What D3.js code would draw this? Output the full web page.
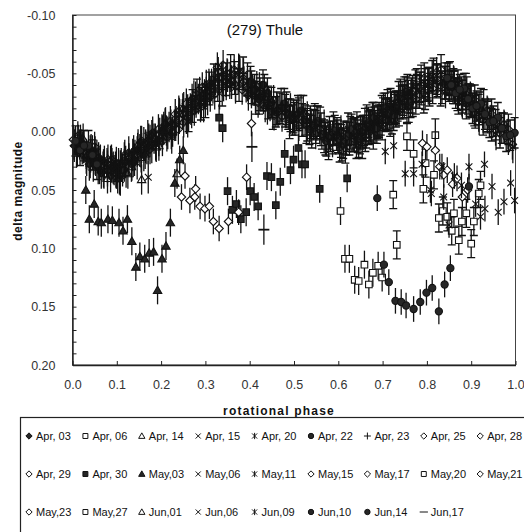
<!DOCTYPE html>
<html>
<head>
<meta charset="utf-8">
<script src="https://cdn.jsdelivr.net/npm/d3@7"></script>
<style>
body { margin:0; background:#fff; }
svg { display:block; font-family:"Liberation Sans", Arial, sans-serif; }
</style>
</head>
<body>
<svg id="chart" width="524" height="532"></svg>
<script>

// ---- data : [rotational phase, delta magnitude] per night ----
var apr03=[[0.004,0.012],[0.018,0.008],[0.031,0.022],[0.045,0.017],[0.058,0.031],[0.072,0.026],[0.086,0.038],[0.099,0.027],[0.113,0.033],[0.127,0.018],[0.140,0.024],[0.154,0.009],[0.168,0.014],[0.181,0.001],[0.195,0.007],[0.209,-0.006],
           [0.011,0.016],[0.025,0.013],[0.038,0.028],[0.052,0.024],[0.065,0.035],[0.079,0.033],[0.092,0.031],[0.106,0.040],[0.120,0.026],[0.134,0.028],[0.147,0.015],[0.161,0.020],[0.175,0.008],[0.188,0.010],[0.202,-0.001]];
var apr06=[[0.552,-0.008],[0.571,0.006],[0.589,-0.003],[0.608,0.011],[0.627,0.001],[0.646,0.008],[0.664,-0.009],[0.683,-0.004],[0.702,-0.019],[0.721,-0.012],[0.740,-0.031],[0.759,-0.022],[0.777,-0.040],[0.796,-0.033],[0.815,-0.049],[0.834,-0.038],[0.852,-0.046],[0.871,-0.029],[0.890,-0.033],[0.909,-0.017],[0.928,-0.022],[0.946,-0.006],[0.819,0.003],
           [0.561,-0.002],[0.580,0.001],[0.599,0.004],[0.618,0.006],[0.636,0.003],[0.655,0.000],[0.674,-0.004],[0.692,-0.011],[0.711,-0.015],[0.730,-0.021],[0.749,-0.026],[0.768,-0.034],[0.787,-0.037],[0.805,-0.041],[0.824,-0.044],[0.843,-0.042],[0.862,-0.038],[0.881,-0.030],[0.900,-0.026],[0.918,-0.020],[0.937,-0.013]];
var apr14=[[0.009,0.018],[0.024,0.006],[0.040,0.027],[0.055,0.020],[0.071,0.036],[0.086,0.025],[0.102,0.040],[0.117,0.022],[0.133,0.030],[0.148,0.011],[0.164,0.019],[0.179,0.003],[0.195,0.012],[0.210,-0.008],[0.226,0.000],[0.241,-0.016],[0.257,-0.011],[0.156,0.041],
           [0.016,0.011],[0.032,0.020],[0.047,0.030],[0.063,0.024],[0.079,0.040],[0.094,0.033],[0.110,0.027],[0.125,0.036],[0.141,0.020],[0.156,0.014],[0.172,0.012],[0.187,0.006],[0.203,-0.001],[0.218,-0.004],[0.234,-0.009],[0.249,-0.020]];
var apr15=[[0.152,0.016],[0.170,0.004],[0.188,0.011],[0.206,-0.003],[0.224,0.005],[0.242,-0.014],[0.260,-0.009],[0.278,-0.029],[0.296,-0.022],[0.314,-0.040],[0.332,-0.033],[0.350,-0.048],[0.368,-0.038],[0.386,-0.049],[0.404,-0.034],[0.422,-0.037],[0.440,-0.020],
           [0.161,0.010],[0.179,0.013],[0.197,0.002],[0.215,0.001],[0.233,-0.006],[0.251,-0.020],[0.269,-0.017],[0.287,-0.033],[0.305,-0.028],[0.323,-0.045],[0.341,-0.040],[0.359,-0.042],[0.377,-0.052],[0.395,-0.040],[0.413,-0.030],[0.431,-0.029]];
var apr20=[[0.603,0.012],[0.622,-0.002],[0.641,0.009],[0.660,-0.006],[0.679,0.001],[0.698,-0.017],[0.717,-0.010],[0.736,-0.029],[0.755,-0.021],[0.774,-0.039],[0.793,-0.030],[0.812,-0.047],[0.831,-0.036],[0.850,-0.045],[0.869,-0.032],[0.888,-0.036],[0.907,-0.019],
           [0.612,0.005],[0.631,0.003],[0.650,0.001],[0.669,-0.003],[0.688,-0.008],[0.707,-0.014],[0.726,-0.020],[0.745,-0.025],[0.764,-0.030],[0.783,-0.034],[0.802,-0.040],[0.821,-0.043],[0.840,-0.042],[0.859,-0.038],[0.878,-0.033],[0.897,-0.027]];
var apr22=[[0.402,-0.043],[0.421,-0.028],[0.440,-0.033],[0.459,-0.017],[0.478,-0.024],[0.497,-0.010],[0.516,-0.018],[0.535,-0.002],[0.554,-0.009],[0.573,0.008],[0.592,-0.001],[0.611,0.010],[0.630,-0.002],[0.649,0.006],[0.668,-0.008],[0.687,-0.003],[0.706,-0.020],[0.725,-0.014],[0.744,-0.030],[0.763,-0.025],
           [0.411,-0.036],[0.430,-0.040],[0.449,-0.025],[0.468,-0.020],[0.487,-0.015],[0.506,-0.014],[0.525,-0.010],[0.544,-0.006],[0.563,0.002],[0.582,0.004],[0.601,0.006],[0.620,0.004],[0.639,0.001],[0.658,-0.001],[0.677,-0.012],[0.696,-0.010],[0.715,-0.016],[0.734,-0.022],[0.753,-0.034]];
var apr23=[[0.262,-0.014],[0.281,-0.031],[0.300,-0.026],[0.319,-0.044],[0.338,-0.036],[0.357,-0.052],[0.376,-0.040],[0.395,-0.045],[0.414,-0.029],[0.433,-0.035],[0.452,-0.016],[0.471,-0.023],[0.490,-0.008],[0.509,-0.017],[0.528,-0.004],[0.547,-0.010],
           [0.271,-0.022],[0.290,-0.024],[0.309,-0.037],[0.328,-0.040],[0.347,-0.045],[0.366,-0.046],[0.385,-0.050],[0.404,-0.038],[0.423,-0.032],[0.442,-0.025],[0.461,-0.020],[0.480,-0.018],[0.499,-0.013],[0.518,-0.010],[0.537,-0.008]];
var apr25=[[0.203,0.008],[0.221,-0.009],[0.239,-0.002],[0.257,-0.024],[0.275,-0.018],[0.293,-0.038],[0.311,-0.030],[0.329,-0.051],[0.347,-0.040],[0.365,-0.053],[0.383,-0.036],[0.401,-0.042],[0.419,-0.025],[0.437,-0.030],[0.455,-0.014],[0.473,-0.021],[0.491,-0.011],
           [0.212,-0.001],[0.230,-0.006],[0.248,-0.015],[0.266,-0.020],[0.284,-0.028],[0.302,-0.034],[0.320,-0.041],[0.338,-0.046],[0.356,-0.047],[0.374,-0.045],[0.392,-0.038],[0.410,-0.035],[0.428,-0.030],[0.446,-0.022],[0.464,-0.017],[0.482,-0.016]];
var apr28=[[0.803,-0.036],[0.822,-0.051],[0.841,-0.040],[0.860,-0.044],[0.879,-0.026],[0.898,-0.030],[0.917,-0.013],[0.936,-0.018],[0.955,-0.001],[0.974,-0.006],[0.993,0.011],[0.012,0.004],[0.031,0.019],[0.050,0.013],[0.069,0.030],[0.088,0.024],[0.107,0.037],
           [0.812,-0.043],[0.831,-0.045],[0.850,-0.039],[0.869,-0.036],[0.888,-0.029],[0.907,-0.022],[0.926,-0.016],[0.945,-0.010],[0.964,-0.004],[0.983,0.002],[0.002,0.007],[0.021,0.011],[0.040,0.016],[0.059,0.022],[0.078,0.027],[0.097,0.030]];
var apr29=[[0.302,-0.040],[0.321,-0.032],[0.340,-0.057],[0.359,-0.044],[0.378,-0.050],[0.397,-0.031],[0.416,-0.039],[0.435,-0.021],[0.454,-0.027],[0.473,-0.013],[0.492,-0.020],[0.511,-0.005],[0.530,-0.013],[0.549,0.002],[0.568,-0.006],[0.587,0.009],[0.606,-0.001],
           [0.311,-0.035],[0.330,-0.046],[0.349,-0.050],[0.368,-0.039],[0.387,-0.043],[0.406,-0.036],[0.425,-0.030],[0.444,-0.024],[0.463,-0.019],[0.482,-0.016],[0.501,-0.012],[0.520,-0.009],[0.539,-0.006],[0.558,-0.002],[0.577,0.004],[0.596,0.003]];
var apr30=[[0.331,-0.012],[0.339,-0.003],[0.350,0.051],[0.361,0.067],[0.370,0.062],[0.380,0.075],[0.392,0.069],[0.401,0.051],[0.410,0.056],[0.419,0.064],[0.439,0.038],[0.449,0.039],[0.459,0.063],[0.469,0.043],[0.479,0.019],[0.492,0.033],[0.499,0.024],[0.510,0.014],[0.518,0.028],[0.525,0.028],[0.558,0.049],[0.620,0.040]];
var may03=[[0.030,0.050],[0.038,0.075],[0.049,0.062],[0.058,0.077],[0.065,0.078],[0.080,0.075],[0.090,0.076],[0.105,0.078],[0.114,0.085],[0.124,0.075],[0.134,0.094],[0.143,0.116],[0.152,0.107],[0.163,0.109],[0.173,0.104],[0.183,0.103],[0.192,0.136],[0.202,0.109],[0.211,0.098],[0.221,0.078],[0.231,0.044],[0.242,0.024],[0.250,0.016]];
var may06=[[0.842,-0.034],[0.861,-0.042],[0.880,-0.025],[0.899,-0.028],[0.918,-0.011],[0.937,-0.016],[0.956,0.002],[0.975,-0.004],[0.994,0.013],[0.013,0.008],[0.032,0.024],[0.051,0.018],[0.070,0.034],[0.089,0.028],[0.108,0.041],[0.127,0.024],[0.146,0.027],[0.165,0.013],[0.171,0.039],
           [0.851,-0.039],[0.870,-0.033],[0.889,-0.030],[0.908,-0.020],[0.927,-0.013],[0.946,-0.008],[0.965,-0.002],[0.984,0.006],[0.003,0.010],[0.022,0.014],[0.041,0.021],[0.060,0.026],[0.079,0.030],[0.098,0.034],[0.117,0.029],[0.136,0.020],[0.155,0.017]];
var may11=[[0.483,-0.020],[0.502,-0.011],[0.521,-0.017],[0.540,0.000],[0.559,-0.007],[0.578,0.010],[0.597,0.002],[0.616,0.013],[0.635,0.003],[0.654,0.009],[0.673,-0.005],[0.692,-0.009],[0.711,-0.022],[0.730,-0.018],[0.749,-0.033],[0.768,-0.027],[0.787,-0.043],[0.806,-0.036],
           [0.492,-0.014],[0.511,-0.015],[0.530,-0.006],[0.549,-0.004],[0.568,0.004],[0.587,0.005],[0.606,0.008],[0.625,0.006],[0.644,0.004],[0.663,0.000],[0.682,-0.007],[0.701,-0.015],[0.720,-0.020],[0.739,-0.025],[0.758,-0.030],[0.777,-0.035],[0.796,-0.040]];
var may15=[[0.642,-0.004],[0.661,0.004],[0.680,-0.012],[0.699,-0.006],[0.718,-0.024],[0.737,-0.018],[0.756,-0.036],[0.775,-0.028],[0.794,-0.046],[0.813,-0.037],[0.832,-0.053],[0.851,-0.039],[0.870,-0.040],[0.889,-0.024],[0.908,-0.027],[0.927,-0.010],[0.946,-0.015],[0.965,0.001],[0.984,-0.002],
           [0.651,0.000],[0.670,-0.005],[0.689,-0.009],[0.708,-0.015],[0.727,-0.021],[0.746,-0.027],[0.765,-0.033],[0.784,-0.038],[0.803,-0.042],[0.822,-0.045],[0.841,-0.046],[0.860,-0.041],[0.879,-0.032],[0.898,-0.026],[0.917,-0.019],[0.936,-0.013],[0.955,-0.006],[0.974,-0.003]];
var may17=[[0.042,0.015],[0.061,0.032],[0.080,0.024],[0.099,0.036],[0.118,0.020],[0.137,0.026],[0.156,0.008],[0.175,0.015],[0.194,-0.002],[0.213,0.004],[0.232,-0.015],[0.251,-0.008],[0.270,-0.028],[0.289,-0.021],[0.308,-0.041],[0.327,-0.055],[0.346,-0.043],[0.365,-0.049],
           [0.051,0.024],[0.070,0.028],[0.089,0.031],[0.108,0.029],[0.127,0.023],[0.146,0.017],[0.165,0.011],[0.184,0.006],[0.203,0.001],[0.222,-0.006],[0.241,-0.011],[0.260,-0.019],[0.279,-0.025],[0.298,-0.032],[0.317,-0.037],[0.336,-0.047],[0.355,-0.041]];
var may20=[[0.724,0.054],[0.732,0.097],[0.755,0.004],[0.770,0.019],[0.792,0.049],[0.797,0.027],[0.816,0.037],[0.827,0.074],[0.836,0.068],[0.846,0.073],[0.856,0.085],[0.861,0.070],[0.872,0.093],[0.879,0.077],[0.889,0.070],[0.900,0.096],[0.906,0.077],[0.917,0.053],[0.921,0.046]];
var may21=[[0.246,0.056],[0.254,0.038],[0.265,0.059],[0.276,0.056],[0.278,0.049],[0.288,0.064],[0.299,0.066],[0.309,0.064],[0.318,0.077],[0.331,0.083],[0.352,0.077],[0.375,0.069],[0.393,0.039],[0.404,-0.007]];
var may23=[[0.790,0.010],[0.800,0.013],[0.819,0.016],[0.829,0.030],[0.838,0.037],[0.846,0.033],[0.858,0.045],[0.868,0.040],[0.880,0.056],[0.892,0.050]];
var may27=[[0.605,0.068],[0.615,0.109],[0.625,0.109],[0.637,0.127],[0.646,0.128],[0.659,0.114],[0.669,0.131],[0.678,0.121],[0.690,0.115],[0.699,0.125]];
var jun01=[[0.104,0.027],[0.121,0.035],[0.138,0.016],[0.155,0.022],[0.172,0.006],[0.189,0.013],[0.206,-0.002],[0.223,0.002],[0.240,-0.018],[0.257,-0.013],[0.274,-0.031],[0.291,-0.025],[0.236,0.036]];
var jun06=[[0.810,0.053],[0.838,0.056],[0.850,0.080],[0.878,0.046],[0.910,0.062],[0.921,0.073],[0.931,0.066],[0.947,0.047],[0.961,0.069],[0.974,0.060],[0.989,0.044],[0.998,0.059]];
var jun09=[[0.706,0.017],[0.725,0.012],[0.751,0.036],[0.770,0.036],[0.789,0.028],[0.808,0.050],[0.834,0.030],[0.862,0.038],[0.895,0.030],[0.930,0.028]];
var jun10=[[0.688,0.057],[0.703,0.114],[0.714,0.129],[0.729,0.145],[0.742,0.146],[0.753,0.149],[0.770,0.152],[0.785,0.146],[0.799,0.138],[0.812,0.134],[0.827,0.154],[0.840,0.131],[0.853,0.117],[0.895,0.047]];
var jun14=[[0.846,-0.046],[0.865,-0.033],[0.884,-0.037],[0.903,-0.020],[0.922,-0.024],[0.941,-0.008],[0.960,-0.012],[0.979,0.004],[0.998,0.001],[0.017,0.016],[0.036,0.012],[0.055,0.028],
           [0.855,-0.040],[0.874,-0.036],[0.893,-0.028],[0.912,-0.022],[0.931,-0.015],[0.950,-0.009],[0.969,-0.003],[0.988,0.003],[0.007,0.008],[0.026,0.012],[0.045,0.020]];
var jun17=[[0.375,-0.054],[0.405,0.013],[0.432,0.084]];

var dates=["Apr, 03","Apr, 06","Apr, 14","Apr, 15","Apr, 20","Apr, 22","Apr, 23","Apr, 25","Apr, 28",
           "Apr, 29","Apr, 30","May,03","May,06","May,11","May,15","May,17","May,20","May,21",
           "May,23","May,27","Jun,01","Jun,06","Jun,09","Jun,10","Jun,14","Jun,17"];
// 1-sigma error of each night (mag)
var errs=[0.014,0.014,0.013,0.014,0.014,0.013,0.014,0.013,0.013,
          0.013,0.012,0.012,0.014,0.014,0.013,0.013,0.012,0.011,
          0.011,0.012,0.013,0.011,0.011,0.011,0.013,0.013];
var xTicks=[0,0.1,0.2,0.3,0.4,0.5,0.6,0.7,0.8,0.9,1.0];
var yTicks=[-0.10,-0.05,0.00,0.05,0.10,0.15,0.20];

var nights=[apr03,apr06,apr14,apr15,apr20,apr22,apr23,apr25,apr28,apr29,apr30,may03,may06,may11,
            may15,may17,may20,may21,may23,may27,jun01,jun06,jun09,jun10,jun14,jun17];

// marker per night
var marks=["diamondF","square","triangle","x","star","circleF","plus","diamond","diamond",
           "diamond","squareF","triangleF","x","star","diamond","diamond","square","diamond",
           "diamond","square","triangle","x","star","circleF","circleF","dash"];
var capped=[1,4,5,6,13,14,16,24];
var whiteFill=[16,17,18,19];   // isolated open markers show a white inside

var svg=d3.select("#chart");
var x=d3.scaleLinear().domain([0,1]).range([72.5,515.5]);
var y=d3.scaleLinear().domain([-0.10,0.20]).range([15,365]);
var ink="#121212";

function shape(t,k){
    var s;
    switch(t){
      case "diamond": case "diamondF": s=4.2*k; return "M0,"+(-s)+"L"+s+",0L0,"+s+"L"+(-s)+",0Z";
      case "square": case "squareF": s=3.3*k; return "M"+(-s)+","+(-s)+"H"+s+"V"+s+"H"+(-s)+"Z";
      case "triangle": case "triangleF": s=4.2*k; return "M0,"+(-s)+"L"+s+","+(s*0.75)+"L"+(-s)+","+(s*0.75)+"Z";
      case "circleF": s=3.6*k; return "M"+(-s)+",0A"+s+","+s+" 0 1,0 "+s+",0A"+s+","+s+" 0 1,0 "+(-s)+",0Z";
      case "x": s=3.4*k; return "M"+(-s)+","+(-s)+"L"+s+","+s+"M"+(-s)+","+s+"L"+s+","+(-s);
      case "star": s=3.4*k; return "M"+(-s)+","+(-s)+"L"+s+","+s+"M"+(-s)+","+s+"L"+s+","+(-s)+"M0,"+(-s-0.6)+"V"+(s+0.6);
      case "plus": s=4.6*k; return "M"+(-s)+",0H"+s+"M0,"+(-s)+"V"+s;
      case "dash": s=5.5*k; return "M"+(-s)+",0H"+s;
    }
}
function fillOf(t,white){
    if(t.slice(-1)=="F") return "#262626";
    if(t=="x"||t=="star"||t=="plus"||t=="dash") return "none";
    return white ? "#fff" : "none";
}

// frame
svg.append("rect")
   .attr("x",x(0)).attr("y",y(-0.10))
   .attr("width",x(1)-x(0)).attr("height",y(0.20)-y(-0.10))
   .attr("fill","none").attr("stroke","#444").attr("stroke-width",1);

// nights
nights.forEach(function(pts,i){
    var g=svg.append("g").attr("class","night");
    var e=errs[i];
    var cap=capped.indexOf(i)>=0;
    g.selectAll(".eb").data(pts).enter().append("path")
        .attr("class","eb")
        .attr("d",function(d){
            var px=x(d[0]), y1=y(d[1]-e), y2=y(d[1]+e);
            var p="M"+px+","+y1+"V"+y2;
            if(cap) p+="M"+(px-4)+","+y1+"H"+(px+4)+"M"+(px-4)+","+y2+"H"+(px+4);
            return p;
        })
        .attr("stroke",ink).attr("stroke-width",1.3).attr("fill","none");
    g.selectAll(".mk").data(pts).enter().append("path")
        .attr("class","mk")
        .attr("transform",function(d){ return "translate("+x(d[0])+","+y(d[1])+")"; })
        .attr("d",shape(marks[i],1))
        .attr("fill",fillOf(marks[i],whiteFill.indexOf(i)>=0))
        .attr("stroke",ink).attr("stroke-width",marks[i]=="dash"?1.8:1.1);
});

// axes
var xa=svg.append("g").attr("transform","translate(0,"+y(0.20)+")")
   .call(d3.axisBottom(x).tickValues(xTicks).tickFormat(d3.format(".1f")).tickSizeInner(-4).tickSizeOuter(0).tickPadding(15));
var ya=svg.append("g").attr("transform","translate("+x(0)+",0)")
   .call(d3.axisLeft(y).tickValues(d3.range(-10,21).map(function(k){return k/100;}))
        .tickFormat(function(d){ return yTicks.some(function(t){return Math.abs(t-d)<1e-9;}) ? d.toFixed(2) : ""; })
        .tickSizeInner(-4).tickSizeOuter(0).tickPadding(17));
[xa,ya].forEach(function(a){
    a.select(".domain").attr("stroke","#222").attr("stroke-width",1.4);
    a.selectAll(".tick line").attr("stroke","#222");
    a.selectAll("text").attr("font-size",12.5).attr("fill","#333").attr("font-family","Liberation Sans, Arial, sans-serif");
});

// titles
svg.append("text").attr("x",265).attr("y",35).attr("text-anchor","middle")
   .attr("font-size",15).attr("fill","#111").text("(279) Thule");
svg.append("text").attr("x",279).attr("y",415).attr("text-anchor","middle")
   .attr("font-size",12).attr("font-weight","bold").attr("letter-spacing",1.2).attr("fill","#111")
   .text("rotational phase");
svg.append("text").attr("transform","translate(22,191) rotate(-90)").attr("text-anchor","middle")
   .attr("font-size",12).attr("font-weight","bold").attr("letter-spacing",0.5).attr("fill","#111")
   .text("delta magnitude");

// legend
svg.append("rect").attr("x",20.5).attr("y",417.5).attr("width",520).attr("height",130)
   .attr("fill","none").attr("stroke","#222").attr("stroke-width",1.2);
var leg=svg.selectAll(".leg").data(dates).enter().append("g")
   .attr("class","leg")
   .attr("transform",function(d,i){ return "translate("+(29+(i%9)*56.4)+","+(436+Math.floor(i/9)*38)+")"; });
leg.append("path")
   .attr("d",function(d,i){ return shape(marks[i],0.75); })
   .attr("fill",function(d,i){ return fillOf(marks[i],true); })
   .attr("stroke",ink).attr("stroke-width",1);
leg.append("text").attr("x",7).attr("y",4).attr("font-size",11).attr("fill","#111")
   .text(function(d){ return d; });

</script>
</body>
</html>
